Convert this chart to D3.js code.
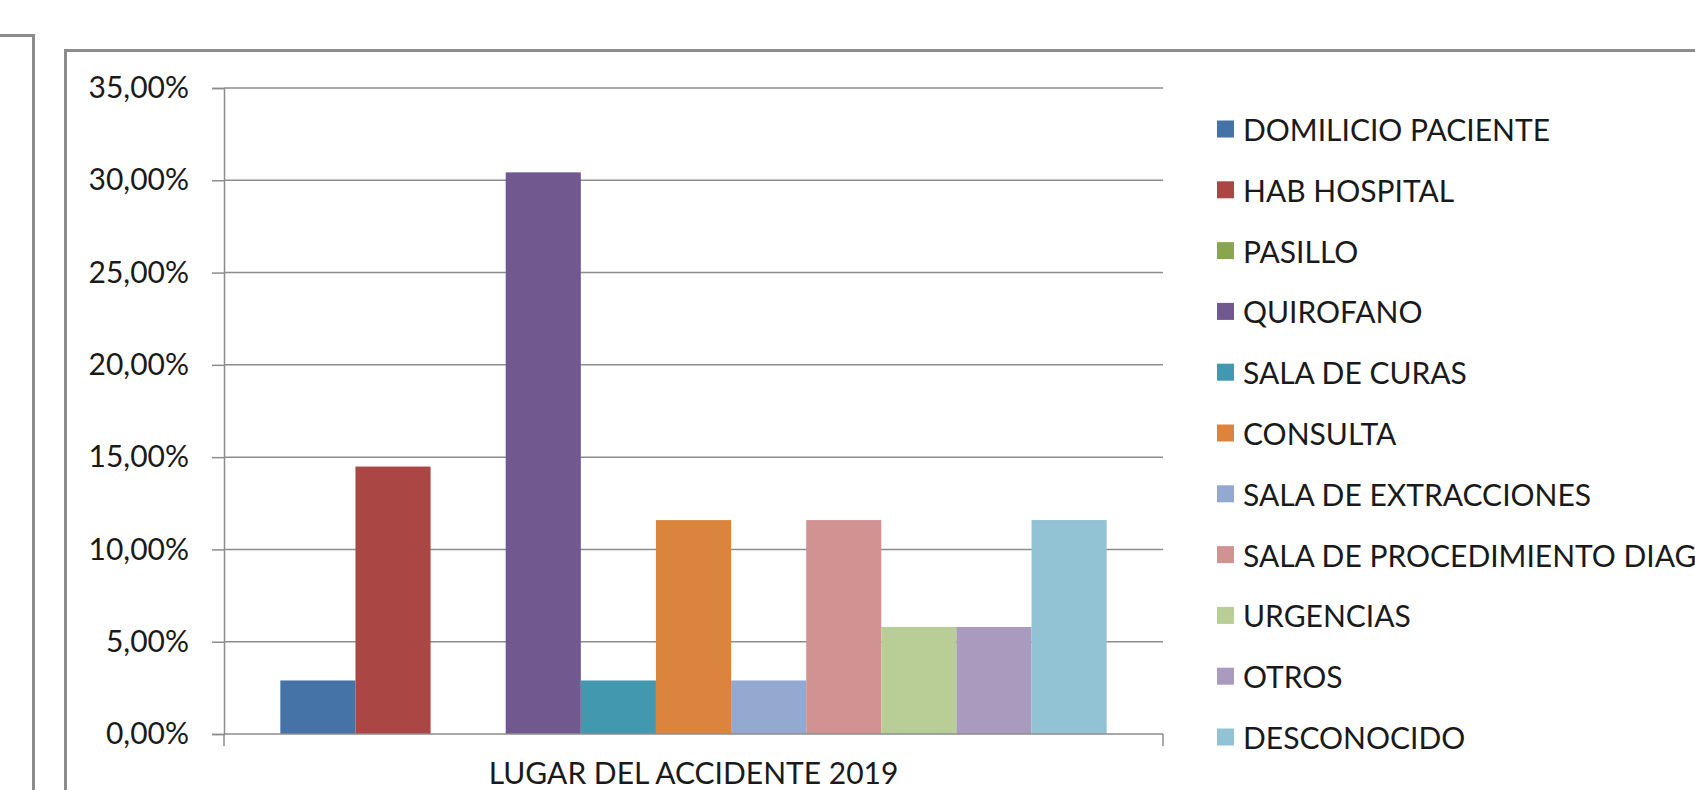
<!DOCTYPE html>
<html>
<head>
<meta charset="utf-8">
<script src="https://cdn.jsdelivr.net/npm/d3@7"></script>
<style>
    html, body { margin: 0; padding: 0; background: #fff; overflow: hidden; }
    text { font-family: Lato, "Open Sans", sans-serif; fill: #1a1a1a; }
</style>
</head>
<body>
<script>
//Data
    const category = "LUGAR DEL ACCIDENTE 2019";
    const places = ["DOMILICIO PACIENTE", "HAB HOSPITAL", "PASILLO", "QUIROFANO", "SALA DE CURAS", "CONSULTA",
                    "SALA DE EXTRACCIONES", "SALA DE PROCEDIMIENTO DIAG", "URGENCIAS", "OTROS", "DESCONOCIDO"];
    const percents = [2.90, 14.49, 0, 30.43, 2.90, 11.59, 2.90, 11.59, 5.80, 5.80, 11.59];
    const yTicks = [0, 5, 10, 15, 20, 25, 30, 35];
    const colors = ["#4572A7", "#AA4643", "#89A54E", "#71588F", "#4198AF", "#DB843D",
                    "#93A9CF", "#D19392", "#B9CD96", "#A99BBD", "#92C3D4"];

//Variables
    const width = 1695;
    const height = 790;
    const plot = { left: 224, right: 1163, top: 88, bottom: 734 };
    const grey = "#8c8c8c";

    const data = places.map((p, i) => ({ place: p, value: percents[i] }));

    const svg = d3.select("body")
        .append("svg")
        .attr("width", width)
        .attr("height", height);

//Frames
    svg.append("path")
        .attr("d", `M0,35.5 H33.5 V${height + 5}`)
        .attr("fill", "none")
        .attr("stroke", grey)
        .attr("stroke-width", 3);

    svg.append("path")
        .attr("d", `M65.5,${height + 5} V50.5 H${width + 5}`)
        .attr("fill", "none")
        .attr("stroke", grey)
        .attr("stroke-width", 3);

//Scales
    const yScale = d3.scaleLinear()
        .domain([0, 35])
        .range([plot.bottom, plot.top]);

    const xScale = d3.scaleBand()
        .domain(places)
        .range([plot.left, plot.right])
        .paddingInner(0)
        .paddingOuter(0.75);

    const color = d3.scaleOrdinal()
        .domain(places)
        .range(colors);

    const es = d3.formatLocale({ decimal: ",", thousands: ".", grouping: [3], currency: ["", "€"] });
    const fmt = d => es.format(".2f")(d) + "%";

//Gridlines
    svg.append("g")
        .selectAll("line")
        .data(yTicks.filter(d => d > 0))
        .enter()
        .append("line")
        .attr("x1", plot.left)
        .attr("x2", plot.right)
        .attr("y1", d => yScale(d))
        .attr("y2", d => yScale(d))
        .attr("stroke", grey)
        .attr("stroke-width", 1.5);

//Bars
    svg.append("g")
        .selectAll("rect")
        .data(data)
        .enter()
        .append("rect")
        .attr("x", d => xScale(d.place))
        .attr("y", d => yScale(d.value))
        .attr("width", xScale.bandwidth())
        .attr("height", d => yScale(0) - yScale(d.value))
        .attr("fill", d => color(d.place));

//yAxis
    const yAxis = d3.axisLeft(yScale)
        .tickValues(yTicks)
        .tickSize(12)
        .tickPadding(23)
        .tickFormat(fmt);

    const yG = svg.append("g")
        .attr("transform", `translate(${plot.left}, 0)`)
        .call(yAxis);
    yG.select(".domain").attr("stroke", grey).attr("stroke-width", 1.5);
    yG.selectAll(".tick line").attr("stroke", grey).attr("stroke-width", 1.5);
    yG.selectAll(".tick text")
        .style("font-size", "30px")
        .style("font-family", "Lato, sans-serif")
        .attr("fill", "#1a1a1a");

//xAxis
    const xCat = d3.scaleBand()
        .domain([category])
        .range([plot.left, plot.right]);

    const xAxis = d3.axisBottom(xCat)
        .tickSize(0)
        .tickPadding(29);

    const xG = svg.append("g")
        .attr("transform", `translate(0, ${plot.bottom})`)
        .call(xAxis);
    xG.select(".domain").remove();
    xG.selectAll(".tick text")
        .style("font-size", "30px")
        .style("font-family", "Lato, sans-serif")
        .attr("fill", "#1a1a1a");

    svg.append("line")
        .attr("x1", plot.left).attr("x2", plot.right)
        .attr("y1", plot.bottom).attr("y2", plot.bottom)
        .attr("stroke", grey).attr("stroke-width", 1.5);

    svg.append("g")
        .selectAll("line")
        .data(xCat.range())
        .enter()
        .append("line")
        .attr("x1", d => d).attr("x2", d => d)
        .attr("y1", plot.bottom).attr("y2", plot.bottom + 12)
        .attr("stroke", grey).attr("stroke-width", 1.5);

//Legend
    const legendY = d3.scalePoint()
        .domain(places)
        .range([129, 737]);

    const legend = svg.append("g")
        .selectAll("g")
        .data(places)
        .enter()
        .append("g")
        .attr("transform", d => `translate(1217, ${legendY(d)})`);

    legend.append("rect")
        .attr("x", 0)
        .attr("y", -8.5)
        .attr("width", 17)
        .attr("height", 17)
        .attr("fill", d => color(d));

    legend.append("text")
        .attr("x", 26)
        .attr("y", 0)
        .attr("dominant-baseline", "central")
        .style("font-size", "30px")
        .text(d => d);
</script>
</body>
</html>
